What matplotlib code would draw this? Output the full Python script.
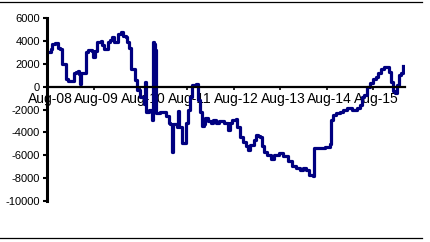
import numpy as np
import pandas as pd
import matplotlib
matplotlib.use('Agg')
import matplotlib.pyplot as plt
import matplotlib.transforms as mtrans
from matplotlib.lines import Line2D

plt.rcParams['font.family'] = ['Liberation Sans', 'DejaVu Sans']

# weeks since 1 Aug 2008 and the cumulative value at that week
weeks = [2, 4, 6, 9, 12, 15, 17, 20, 21, 24, 27, 30, 33, 35, 36, 37, 38, 42, 44, 46,
         50, 52, 54, 56, 60, 62, 64, 68, 71, 73, 75, 79, 83, 85, 88, 90, 92, 94, 98, 99,
         101, 104, 108, 110, 111, 114, 117, 119, 120, 121, 122, 126, 130, 133, 136, 138, 140, 141, 145, 147,
         148, 151, 155, 158, 160, 162, 167, 169, 171, 173, 176, 177, 180, 183, 186, 189, 192, 195, 198, 203,
         205, 207, 211, 213, 216, 219, 223, 225, 227, 231, 234, 236, 238, 240, 243, 246, 250, 254, 260, 264,
         270, 274, 279, 283, 286, 290, 293, 298, 299, 305, 311, 316, 318, 320, 323, 328, 331, 336, 341, 347,
         350, 352, 355, 358, 361, 365, 368, 370, 374, 377, 380, 383, 385, 387, 389, 392, 394, 396, 398]
values = [3000, 3300, 3700, 3800, 3400, 3300, 2000, 2000, 700, 500, 500, 1200, 1300, 1400, 1100, 200, 1200, 1200, 3000, 3200,
          3100, 2600, 3100, 3900, 4000, 3600, 3300, 3900, 4100, 4300, 3900, 4600, 4800, 4400, 4300, 3900, 3400, 1500, 1300, 600,
          -300, -900, -1500, 400, -2200, -2000, -2900, 3900, 3700, 3200, -2300, -2200, -2200, -2600, -3200, -3300, -5700, -3300, -3500, -2100,
          -3500, -4900, -3200, -2000, -900, 100, 200, -1200, -2200, -3400, -3300, -2700, -3000, -3200, -2900, -3200, -3000, -3000, -3200, -3800,
          -3200, -2900, -2800, -3500, -4400, -4800, -5200, -5500, -5100, -4700, -4200, -4300, -4400, -5200, -5700, -6000, -6300, -6000, -5800, -6100,
          -6500, -6900, -7100, -7300, -7100, -7300, -7700, -7800, -5400, -5400, -5300, -5000, -2900, -2500, -2300, -2200, -2000, -1900, -2000, -1900,
          -1600, -900, -700, 0, 300, 700, 800, 1200, 1500, 1700, 1700, 1300, 400, -400, -600, 100, 1000, 1200, 1800]

start = pd.Timestamp('2008-08-01')
dates = start + pd.to_timedelta(np.array(weeks) * 7, unit='D')
tick_dates = pd.date_range('2008-08-01', '2015-08-01', freq='12MS')
tick_labels = [d.strftime('%b-%y') for d in tick_dates]
y_ticks = np.arange(-10000, 6001, 2000)

fig = plt.figure(figsize=(4.31, 2.42), dpi=100)
ax = fig.add_axes([0.109, 0.169, 0.831, 0.757])

ax.plot(dates, values, color='#000080', lw=2.3, drawstyle='steps-post')

ax.set_xlim(start, pd.Timestamp('2016-04-05'))
ax.set_ylim(-10000, 6000)
ax.set_yticks(y_ticks)
ax.set_yticklabels([str(v) for v in y_ticks], fontsize=8)
ax.set_xticks(tick_dates)
ax.set_xticklabels(tick_labels, fontsize=8)

ax.spines['top'].set_visible(False)
ax.spines['right'].set_visible(False)
ax.spines['left'].set_linewidth(2.2)
ax.spines['bottom'].set_position(('data', 0))
ax.spines['bottom'].set_linewidth(1.6)
ax.tick_params(axis='y', direction='out', length=3, width=1.5, pad=2)
ax.tick_params(axis='x', direction='out', length=2, width=1.2, pad=2)
shift = mtrans.ScaledTranslation(3 / 100, 0, fig.dpi_scale_trans)
for lab in ax.get_xticklabels():
    lab.set_transform(lab.get_transform() + shift)

# horizontal rules above and below the chart
fig.add_artist(Line2D([0, 0.98], [0.992, 0.992], color='black', lw=0.9))
fig.add_artist(Line2D([0, 0.98], [0.016, 0.016], color='black', lw=0.9))

plt.savefig('out.png', dpi=100)
